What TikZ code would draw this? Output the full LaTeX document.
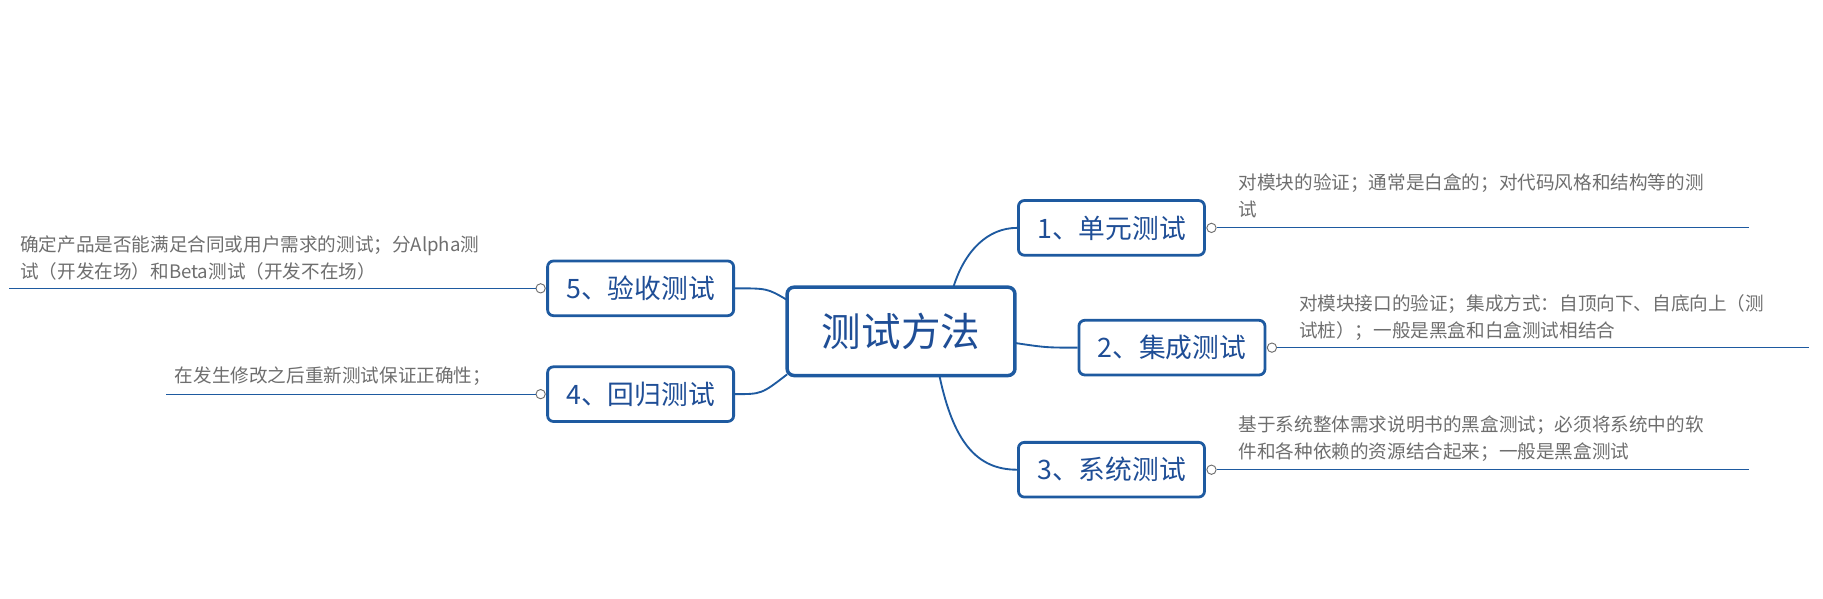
\documentclass[tikz,border=0pt]{standalone}
\usepackage{fontspec}
\setmainfont{Noto Sans CJK SC}
\definecolor{bblue}{HTML}{1E5AA0}
\definecolor{tblue}{HTML}{1F4E96}
\definecolor{dgray}{HTML}{6E6E6E}
\begin{document}
\begin{tikzpicture}[x=0.5pt,y=-0.5pt,
  topic/.style={draw=bblue,line width=1.2pt,rounded corners=2.5pt,fill=white,text=tblue,minimum width=80pt,minimum height=23.5pt,inner sep=0pt,font=\fontsize{11.5}{13}\selectfont},
  root/.style={draw=bblue,line width=1.5pt,rounded corners=3pt,fill=white,text=tblue,minimum width=98pt,minimum height=38pt,inner sep=0pt,font=\fontsize{17}{20}\selectfont},
  desc/.style={anchor=north west,text=dgray,inner sep=0pt,align=left,font=\fontsize{8}{11.7}\selectfont},
  conn/.style={draw=bblue,line width=0.8pt},
  dline/.style={draw=bblue,line width=0.5pt},
  knob/.style={circle,draw=dgray,line width=0.4pt,fill=white,minimum size=4pt,inner sep=0pt}]
\useasboundingbox (0,0) rectangle (1568,515);
\node[root] (c) at (775,285) {测试方法};
\node[topic] (n1) at (956,196) {1、单元测试};
\node[topic] (n2) at (1008,299) {2、集成测试};
\node[topic] (n3) at (956,404) {3、系统测试};
\node[topic] (n5) at (551,248) {5、验收测试};
\node[topic] (n4) at (551,339) {4、回归测试};
\coordinate (c1) at (820,247);
\coordinate (c3) at (808,323);
\coordinate (c2) at (873,295);
\coordinate (c5) at (677,258);
\coordinate (c4) at (677,322);
\draw[conn] (c1) .. controls (830,215) and (850,196) .. (n1.west);
\draw[conn] (c2) .. controls (900,299) .. (n2.west);
\draw[conn] (c3) .. controls (820,380) and (840,404) .. (n3.west);
\draw[conn] (c5) .. controls (660,248) .. (n5.east);
\draw[conn] (c4) .. controls (655,339) .. (n4.east);
% descriptions
\node[knob] (k1) at (1042,196) {};
\coordinate (e1) at (1504,196);
\draw[dline] (k1) -- (e1);
\node[desc] (d1) at (1065,149) {对模块的验证；通常是白盒的；对代码风格和结构等的测\\试};
\node[knob] (k2) at (1094,299) {};
\coordinate (e2) at (1556,299);
\draw[dline] (k2) -- (e2);
\node[desc] (d2) at (1117,253) {对模块接口的验证；集成方式：自顶向下、自底向上（测\\试桩）；一般是黑盒和白盒测试相结合};
\node[knob] (k3) at (1042,404) {};
\coordinate (e3) at (1504,404);
\draw[dline] (k3) -- (e3);
\node[desc] (d3) at (1065,357) {基于系统整体需求说明书的黑盒测试；必须将系统中的软\\件和各种依赖的资源结合起来；一般是黑盒测试};
\node[knob] (k5) at (465,248) {};
\coordinate (e5) at (8,248);
\draw[dline] (k5) -- (e5);
\node[desc] (d5) at (17,202) {确定产品是否能满足合同或用户需求的测试；分Alpha测\\试（开发在场）和Beta测试（开发不在场）};
\node[knob] (k4) at (465,339) {};
\coordinate (e4) at (143,339);
\draw[dline] (k4) -- (e4);
\node[desc] (d4) at (150,315) {在发生修改之后重新测试保证正确性；};
\end{tikzpicture}
\end{document}
